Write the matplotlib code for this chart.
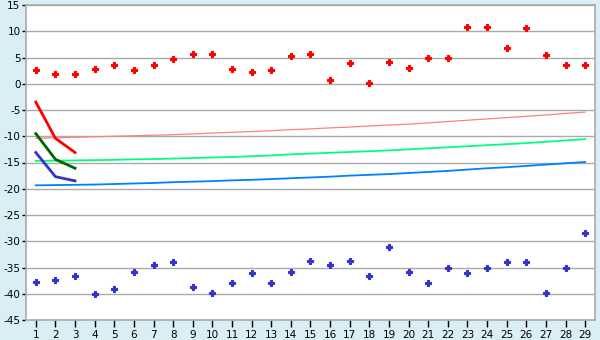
import matplotlib
matplotlib.use('Agg')
import matplotlib.pyplot as plt
import numpy as np

# category positions 1..29
cats = np.arange(1, 30)

# scattered points
red_pts = [2.7, 1.8, 1.95, 2.9, 3.5, 2.7, 3.5, 4.65, 5.65, 5.65,
           2.75, 2.2, 2.55, 5.2, 5.65, 0.65, 3.9, 0.1, 4.1, 2.95,
           5.0, 5.0, 10.75, 10.75, 6.75, 10.55, 5.4, 3.5, 3.5]
blue_pts = [-37.8, -37.3, -36.7, -40.1, -39.15, -35.9, -34.6, -34.0, -38.8, -39.9,
            -38.0, -36.1, -38.0, -35.9, -33.8, -34.6, -33.8, -36.7, -31.0, -35.9,
            -38.0, -35.0, -36.1, -35.0, -34.0, -34.0, -39.9, -35.0, -28.5]

# short thick lines (first three categories)
short_x = [1, 2, 3]
red_short = [-3.5, -10.4, -13.1]
green_short = [-9.5, -14.4, -16.1]
blue_short = [-13.1, -17.7, -18.5]

# thin trend lines
pink_trend = [-10.4, -10.3, -10.2, -10.1, -10.0, -9.9, -9.8, -9.7, -9.55, -9.4,
              -9.25, -9.1, -8.95, -8.75, -8.6, -8.4, -8.25, -8.05, -7.85, -7.7,
              -7.45, -7.2, -6.95, -6.7, -6.45, -6.2, -5.95, -5.65, -5.4]
green_trend = [-14.7, -14.65, -14.6, -14.55, -14.5, -14.4, -14.35, -14.25, -14.15, -14.05,
               -13.95, -13.8, -13.65, -13.45, -13.3, -13.15, -13.0, -12.85, -12.7, -12.5,
               -12.3, -12.1, -11.9, -11.7, -11.5, -11.3, -11.05, -10.8, -10.55]
blue_trend = [-19.35, -19.3, -19.25, -19.2, -19.1, -19.0, -18.9, -18.75, -18.65, -18.55,
              -18.4, -18.3, -18.15, -18.0, -17.85, -17.7, -17.5, -17.35, -17.2, -17.0,
              -16.8, -16.6, -16.35, -16.1, -15.9, -15.65, -15.4, -15.15, -14.9]

BG = '#d9eff5'
GRID = '#aaaaaa'

fig = plt.figure(figsize=(6, 3.4), dpi=100, facecolor=BG)
ax = fig.add_axes([26 / 600, 1 - 320 / 340, 569 / 600, 315 / 340])
ax.set_facecolor('white')

ax.plot(cats, pink_trend, color='#ff8080', lw=0.9, zorder=2)
ax.plot(cats, green_trend, color='#00ff80', lw=1.3, zorder=2)
ax.plot(cats, blue_trend, color='#0080ff', lw=1.3, zorder=2)

ax.plot(short_x, red_short, color='#ff0000', lw=2, zorder=3)
ax.plot(short_x, green_short, color='#006400', lw=2, zorder=3)
ax.plot(short_x, blue_short, color='#3333cc', lw=2, zorder=3)

ax.plot(cats, red_pts, ls='none', marker='P', ms=4, mew=0.8, color='#ff0000',
        zorder=4)
ax.plot(cats, blue_pts, ls='none', marker='P', ms=4, mew=0.8, color='#3333cc',
        zorder=4)

ax.set_xlim(0.5, 29.5)
ax.set_ylim(-45, 15)
ax.set_xticks(cats)
ax.set_yticks(np.arange(-45, 16, 5))
ax.set_yticklabels([str(v) for v in range(-45, 16, 5)])
ax.grid(axis='y', color=GRID, lw=1.0)
ax.set_axisbelow(True)
for s in ax.spines.values():
    s.set_color(GRID)
    s.set_linewidth(1.2)
ax.tick_params(axis='x', length=5, width=1, color='black', labelsize=7.5, pad=2)
ax.tick_params(axis='y', length=3, width=1, color='black', labelsize=7.5, pad=1)

fig.savefig('out.png', dpi=100, facecolor=BG)
